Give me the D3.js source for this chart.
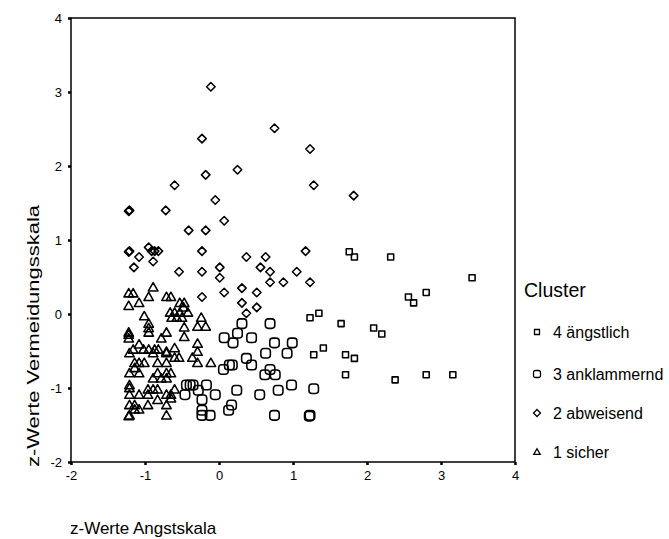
<!DOCTYPE html>
<html>
<head>
<meta charset="utf-8">
<script src="https://cdn.jsdelivr.net/npm/d3@7/dist/d3.min.js"></script>
<style>
  html, body { margin: 0; padding: 0; background: #fff; }
  svg { display: block; font-family: Arial, "Liberation Sans", sans-serif; }
</style>
</head>
<body>
<svg id="chart" width="669" height="539"></svg>
<script>
// Tick values for both axes
const xTicks = [-2, -1, 0, 1, 2, 3, 4];
const yTicks = [-2, -1, 0, 1, 2, 3, 4];

// Cluster 4: ängstlich  [Angst z, Vermeidung z]
const cluster4 = [
  [1.76, 0.84], [1.83, 0.77], [2.32, 0.77], [3.42, 0.49], [2.56, 0.23], [2.63, 0.15],
  [2.80, 0.29], [1.23, -0.05], [1.35, 0.01], [1.65, -0.13], [2.09, -0.19], [2.20, -0.27],
  [1.28, -0.55], [1.41, -0.46], [1.71, -0.55], [1.83, -0.60], [1.71, -0.82], [2.38, -0.89],
  [2.80, -0.82], [3.16, -0.82]
];

// Cluster 3: anklammernd
const cluster3 = [
  [0.31, -0.13], [0.69, -0.13], [0.25, -0.26], [0.07, -0.32], [0.19, -0.39], [0.44, -0.32],
  [0.75, -0.39], [0.99, -0.39], [0.63, -0.53], [0.92, -0.53], [0.37, -0.60], [0.44, -0.69],
  [0.14, -0.69], [0.18, -0.69], [0.06, -0.75], [0.69, -0.75], [0.62, -0.82], [0.76, -0.82],
  [-0.44, -0.96], [-0.39, -0.96], [-0.35, -0.96], [-0.17, -0.96], [-0.46, -1.09], [-0.28, -1.03],
  [-0.05, -1.09], [-0.23, -1.16], [0.24, -1.03], [0.55, -1.09], [0.80, -1.03], [0.98, -0.96],
  [1.28, -1.01], [-0.23, -1.30], [-0.23, -1.37], [-0.12, -1.37], [0.13, -1.30], [0.17, -1.23],
  [0.75, -1.37], [1.23, -1.37], [1.22, -1.38]
];

// Cluster 2: abweisend
const cluster2 = [
  [-0.11, 3.07], [0.75, 2.51], [-0.23, 2.37], [1.23, 2.23], [0.25, 1.95], [-0.18, 1.88],
  [-0.60, 1.74], [1.28, 1.74], [1.82, 1.60], [-0.05, 1.54], [-1.21, 1.40], [-1.22, 1.39],
  [-0.72, 1.40], [0.07, 1.26], [-0.41, 1.13], [-0.18, 1.13], [-1.21, 0.85], [-1.22, 0.84],
  [-0.95, 0.90], [-0.91, 0.85], [-0.87, 0.85], [-0.82, 0.85], [-1.08, 0.77], [-0.89, 0.71],
  [-1.15, 0.63], [-0.23, 0.85], [0.37, 0.77], [0.63, 0.77], [1.17, 0.85], [0.01, 0.63],
  [0.56, 0.63], [-0.54, 0.57], [-0.23, 0.57], [0.69, 0.57], [1.05, 0.57], [0.01, 0.49],
  [0.69, 0.43], [0.87, 0.43], [1.23, 0.43], [0.31, 0.35], [0.51, 0.29], [0.07, 0.29],
  [-0.23, 0.23], [0.31, 0.15], [0.51, 0.09], [0.37, 0.01]
];

// Cluster 1: sicher
const cluster1 = [
  [-1.22, 0.28], [-1.16, 0.28], [-0.89, 0.36], [-0.95, 0.23], [-0.71, 0.23], [-0.65, 0.23],
  [-1.22, 0.11], [-1.08, 0.15], [-0.53, 0.15], [-0.47, 0.15], [-0.48, 0.09], [-0.42, 0.02],
  [-0.66, 0.02], [-0.60, 0.02], [-0.53, 0.02], [-0.64, -0.05], [-0.57, -0.05], [-0.50, -0.05],
  [-1.01, -0.03], [-0.95, -0.13], [-0.95, -0.19], [-0.95, -0.25], [-0.47, -0.18], [-0.24, -0.05],
  [-0.29, -0.17], [-0.18, -0.17], [-1.22, -0.25], [-1.22, -0.28], [-1.22, -0.33], [-0.71, -0.25],
  [-0.78, -0.33], [-0.47, -0.31], [-1.08, -0.41], [-0.29, -0.40], [-1.16, -0.48], [-1.02, -0.48],
  [-0.95, -0.48], [-0.87, -0.48], [-0.82, -0.48], [-0.71, -0.51], [-0.60, -0.46], [-0.29, -0.51],
  [-1.21, -0.53], [-0.89, -0.53], [-0.71, -0.53], [-0.60, -0.59], [-0.54, -0.59], [-0.36, -0.59],
  [-0.29, -0.66], [-0.11, -0.66], [-1.14, -0.66], [-1.08, -0.66], [-1.01, -0.66], [-0.83, -0.66],
  [-0.71, -0.66], [-1.21, -0.80], [-1.08, -0.80], [-1.14, -0.73], [-0.89, -0.87], [-0.83, -0.80],
  [-0.78, -0.87], [-0.71, -0.80], [-0.65, -0.80], [-0.71, -0.87], [-1.21, -0.96], [-1.21, -1.00],
  [-1.21, -1.09], [-1.08, -1.09], [-0.96, -1.02], [-0.96, -1.09], [-0.89, -1.02], [-0.83, -1.02],
  [-0.71, -1.09], [-0.60, -1.02], [-0.65, -1.09], [-0.65, -1.14], [-0.83, -1.16], [-1.21, -1.23],
  [-1.14, -1.23], [-1.08, -1.29], [-0.96, -1.23], [-0.71, -1.23], [-1.14, -1.29], [-1.21, -1.37],
  [-1.22, -1.38], [-0.71, -1.37]
];

const legendLabels = ["4 ängstlich", "3 anklammernd", "2 abweisend", "1 sicher"];

// Marker outlines, centred on the origin
const shapes = {
  square: s => `M${-s/2},${-s/2}H${s/2}V${s/2}H${-s/2}Z`,
  rounded: s => {
    const h = s / 2, r = s * 0.32;
    return `M${-h + r},${-h}H${h - r}Q${h},${-h} ${h},${-h + r}V${h - r}Q${h},${h} ${h - r},${h}` +
           `H${-h + r}Q${-h},${h} ${-h},${h - r}V${-h + r}Q${-h},${-h} ${-h + r},${-h}Z`;
  },
  diamond: s => `M0,${-s/2}L${s/2},0L0,${s/2}L${-s/2},0Z`,
  triangle: s => `M0,${-s*0.5}L${s*0.5},${s*0.38}L${-s*0.5},${s*0.38}Z`
};

const svg = d3.select("#chart");
const x = d3.scaleLinear().domain([-2, 4]).range([71, 515]);
const y = d3.scaleLinear().domain([-2, 4]).range([462, 18]);

// Axes with small outward ticks
const xAxis = svg.append("g")
  .attr("transform", `translate(0,${y(-2)})`)
  .call(d3.axisBottom(x).tickValues(xTicks).tickSize(3).tickPadding(6).tickFormat(d3.format("d")));
const yAxis = svg.append("g")
  .attr("transform", `translate(${x(-2)},0)`)
  .call(d3.axisLeft(y).tickValues(yTicks).tickSize(3).tickPadding(6).tickFormat(d3.format("d")));
[xAxis, yAxis].forEach(a => {
  a.select(".domain").remove();
  a.selectAll(".tick line").attr("stroke", "#000").attr("stroke-width", 2.5);
  a.selectAll(".tick text").attr("fill", "#000").style("font-size", "13px")
    .style("font-family", "Arial, 'Liberation Sans', sans-serif")
    .text(d => d < 0 ? "-" + Math.abs(d) : d);
});

// Plot frame
svg.append("rect")
  .attr("x", x(-2)).attr("y", y(4))
  .attr("width", x(4) - x(-2)).attr("height", y(-2) - y(4))
  .attr("fill", "none").attr("stroke", "#000").attr("stroke-width", 1.5);

// Scatter points per cluster
const series = [
  { data: cluster1, shape: "triangle", size: 9.5 },
  { data: cluster2, shape: "diamond", size: 8.5 },
  { data: cluster3, shape: "rounded", size: 9.5 },
  { data: cluster4, shape: "square", size: 6 }
];
series.forEach(s => {
  svg.append("g").selectAll("path").data(s.data).join("path")
    .attr("d", shapes[s.shape](s.size))
    .attr("transform", d => `translate(${x(d[0])},${y(d[1])})`)
    .attr("fill", "none").attr("stroke", "#000").attr("stroke-width", 1.55)
    .attr("stroke-linejoin", "round");
});

// Axis titles
svg.append("text")
  .attr("x", 70).attr("y", 534)
  .style("font-size", "17px").attr("fill", "#000")
  .text("z-Werte Angstskala");
svg.append("text")
  .attr("transform", "translate(39,467) rotate(-90)")
  .attr("textLength", 262).attr("lengthAdjust", "spacingAndGlyphs")
  .style("font-size", "16px").attr("fill", "#000")
  .text("z-Werte Vermeidungsskala");

// Legend
svg.append("text")
  .attr("x", 524).attr("y", 297)
  .style("font-size", "19.5px").attr("fill", "#000")
  .text("Cluster");
const legendShapes = [
  { shape: "square", size: 5 },
  { shape: "rounded", size: 7 },
  { shape: "diamond", size: 7 },
  { shape: "triangle", size: 6.5 }
];
const legendY = [338, 380, 419, 458];
legendLabels.forEach((label, i) => {
  svg.append("path")
    .attr("d", shapes[legendShapes[i].shape](legendShapes[i].size))
    .attr("transform", `translate(537,${legendY[i] - 6})`)
    .attr("fill", "none").attr("stroke", "#000").attr("stroke-width", 1.3);
  svg.append("text")
    .attr("x", 553).attr("y", legendY[i])
    .style("font-size", "16px").attr("fill", "#000")
    .text(label);
});
</script>
</body>
</html>
